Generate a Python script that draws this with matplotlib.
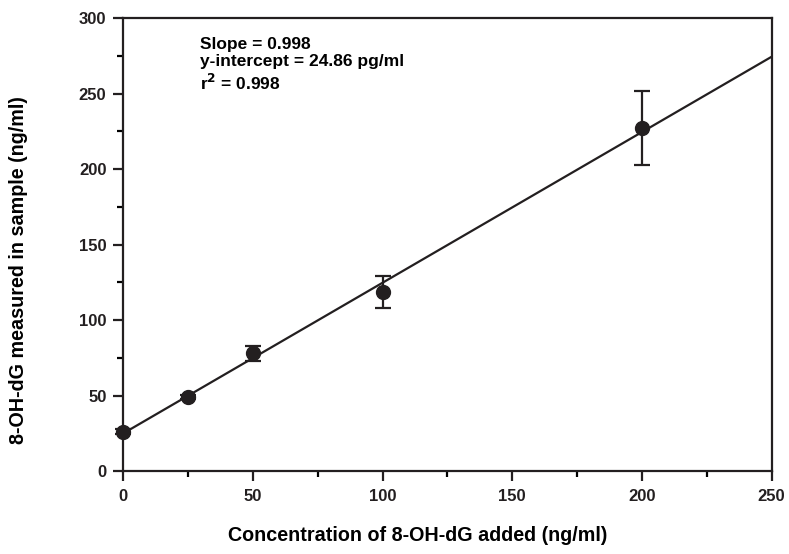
import matplotlib
matplotlib.use('Agg')
from matplotlib import pyplot as plt
from matplotlib.ticker import MultipleLocator
import numpy as np

added = [0, 25, 50, 100, 200]
measured = [26, 49, 78, 118.5, 227]
err = [1.5, 1.5, 5, 10.5, 24.5]

slope = 0.998
intercept = 24.86
fit_x = [0, 250]

plt.rcParams['font.family'] = ['Liberation Sans', 'DejaVu Sans']
plt.rcParams['font.weight'] = 'bold'

fig = plt.figure(figsize=(7.89, 5.54), dpi=100)
ax = fig.add_axes([0.156, 0.1498, 0.822, 0.8177])

fx = np.array(fit_x)
ax.plot(fx, slope * fx + intercept, color='#231f20', lw=1.6, zorder=2)
ax.errorbar(added, measured, yerr=err, fmt='o', color='#231f20', ms=10,
            capsize=6, elinewidth=1.6, capthick=1.6, zorder=3, clip_on=False)

ax.set_xlim(0, 250)
ax.set_ylim(0, 300)
ax.xaxis.set_major_locator(MultipleLocator(50))
ax.xaxis.set_minor_locator(MultipleLocator(25))
ax.yaxis.set_major_locator(MultipleLocator(50))
ax.yaxis.set_minor_locator(MultipleLocator(25))
ax.tick_params(which='major', direction='out', length=7, width=1.6, labelsize=12, colors='#231f20')
ax.tick_params(axis='x', which='major', pad=6)
ax.tick_params(axis='y', which='major', pad=5)
ax.tick_params(which='minor', direction='out', length=4, width=1.6)
for s in ax.spines.values():
    s.set_linewidth(1.6)
    s.set_color('#231f20')

ax.set_xlabel('Concentration of 8-OH-dG added (ng/ml)', fontsize=14.2, fontweight='bold')
ax.xaxis.set_label_coords(0.454, -0.121)
ax.set_ylabel('8-OH-dG measured in sample (ng/ml)', fontsize=14.2, fontweight='bold')
ax.yaxis.set_label_coords(-0.146, 0.443)

ax.text(0.119, 0.958, 'Slope = 0.998\ny-intercept = 24.86 pg/ml\nr$^\\mathbf{2}$ = 0.998',
        transform=ax.transAxes, fontsize=12.5, fontweight='bold', va='top', linespacing=1.2)

fig.savefig('out.png', dpi=100)
